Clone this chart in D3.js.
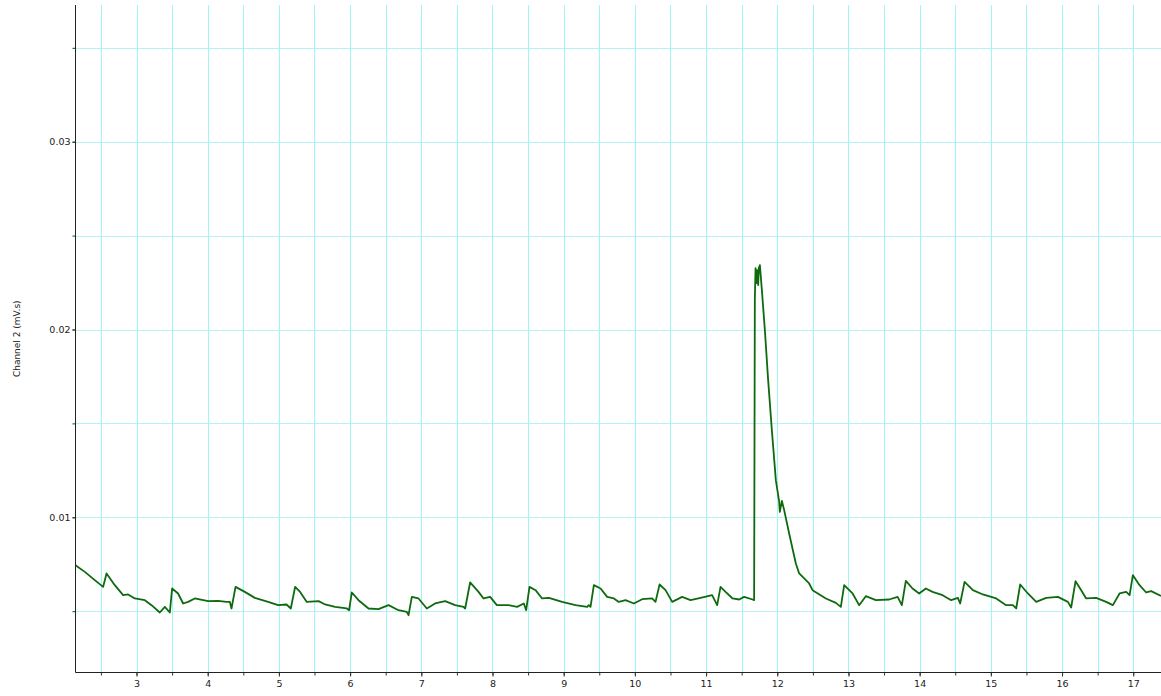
<!DOCTYPE html>
<html>
<head>
<meta charset="utf-8">
<script src="https://cdn.jsdelivr.net/npm/d3@7"></script>
<style>
  html, body { margin: 0; padding: 0; background: #fff; }
  svg { display: block; }
  .tick text { font-family: "DejaVu Sans", Verdana, sans-serif; font-size: 9.5px; fill: #222; }
</style>
</head>
<body>
<svg id="chart" width="1161" height="696"></svg>
<script>
// Time (s)
const timeValues = [
  2.143, 2.274, 2.414, 2.531, 2.579, 2.695, 2.812, 2.882, 2.976, 3.117, 3.211, 3.327, 3.398, 3.468,
  3.500, 3.584, 3.655, 3.725, 3.819, 4.006, 4.146, 4.264, 4.311, 4.334, 4.391, 4.521, 4.662, 4.849,
  4.989, 5.107, 5.167, 5.228, 5.298, 5.392, 5.557, 5.649, 5.790, 5.954, 5.986, 6.024, 6.118, 6.259,
  6.399, 6.540, 6.680, 6.797, 6.821, 6.867, 6.961, 7.078, 7.194, 7.335, 7.475, 7.593, 7.616, 7.686,
  7.804, 7.874, 7.967, 8.061, 8.131, 8.225, 8.346, 8.440, 8.473, 8.520, 8.605, 8.697, 8.792, 8.978,
  9.167, 9.330, 9.353, 9.377, 9.424, 9.518, 9.611, 9.705, 9.775, 9.869, 9.986, 10.102, 10.243, 10.290,
  10.347, 10.431, 10.524, 10.664, 10.782, 10.923, 11.085, 11.156, 11.203, 11.274, 11.372, 11.465,
  11.535, 11.653, 11.675, 11.685, 11.695, 11.709, 11.720, 11.732, 11.741, 11.756, 11.784, 11.826,
  11.872, 11.924, 11.980, 12.027, 12.036, 12.065, 12.097, 12.167, 12.261, 12.308, 12.448, 12.496,
  12.683, 12.823, 12.893, 12.940, 13.058, 13.150, 13.244, 13.385, 13.572, 13.690, 13.750, 13.806,
  13.900, 13.993, 14.087, 14.181, 14.322, 14.443, 14.537, 14.569, 14.631, 14.748, 14.888, 15.075,
  15.215, 15.309, 15.356, 15.412, 15.520, 15.637, 15.777, 15.942, 16.082, 16.128, 16.190, 16.269,
  16.339, 16.479, 16.620, 16.714, 16.808, 16.901, 16.949, 16.995, 17.089, 17.182, 17.252, 17.390
];
// Channel 2 (mV.s)
const channel2Values = [
  0.007450, 0.007094, 0.006651, 0.006294, 0.007008, 0.006385, 0.005852, 0.005890, 0.005677, 0.005586,
  0.005320, 0.004931, 0.005229, 0.004931, 0.006209, 0.005943, 0.005410, 0.005495, 0.005677, 0.005533,
  0.005549, 0.005495, 0.005495, 0.005144, 0.006294, 0.006028, 0.005708, 0.005495, 0.005320, 0.005357,
  0.005144, 0.006294, 0.006028, 0.005495, 0.005533, 0.005357, 0.005229, 0.005144, 0.005053, 0.005996,
  0.005586, 0.005144, 0.005107, 0.005320, 0.005053, 0.004963, 0.004787, 0.005762, 0.005677, 0.005144,
  0.005410, 0.005533, 0.005320, 0.005229, 0.005144, 0.006529, 0.006028, 0.005677, 0.005762, 0.005320,
  0.005320, 0.005320, 0.005229, 0.005410, 0.005053, 0.006294, 0.006119, 0.005677, 0.005708, 0.005495,
  0.005320, 0.005229, 0.005320, 0.005229, 0.006385, 0.006209, 0.005762, 0.005677, 0.005495, 0.005586,
  0.005410, 0.005639, 0.005677, 0.005495, 0.006422, 0.006119, 0.005495, 0.005762, 0.005586, 0.005708,
  0.005852, 0.005320, 0.006294, 0.006028, 0.005677, 0.005623, 0.005762, 0.005623, 0.005586, 0.021567,
  0.023272, 0.022473, 0.023165, 0.022366, 0.023272, 0.023431, 0.022100, 0.019969, 0.017305, 0.014642,
  0.011978, 0.010822, 0.010290, 0.010876, 0.010380, 0.009139, 0.007541, 0.007008, 0.006476, 0.006119,
  0.005677, 0.005442, 0.005229, 0.006385, 0.005943, 0.005320, 0.005799, 0.005586, 0.005623, 0.005762,
  0.005320, 0.006614, 0.006209, 0.005943, 0.006209, 0.006028, 0.005852, 0.005586, 0.005708, 0.005410,
  0.006561, 0.006119, 0.005890, 0.005677, 0.005320, 0.005320, 0.005144, 0.006422, 0.005943, 0.005495,
  0.005708, 0.005762, 0.005495, 0.005197, 0.006598, 0.006119, 0.005677, 0.005708, 0.005495, 0.005320,
  0.005943, 0.006028, 0.005852, 0.006918, 0.006385, 0.005996, 0.006065, 0.005815
];
const xTickValues = [3, 4, 5, 6, 7, 8, 9, 10, 11, 12, 13, 14, 15, 16, 17];
const xGridValues = [2.5, 3, 3.5, 4, 4.5, 5, 5.5, 6, 6.5, 7, 7.5, 8, 8.5, 9, 9.5, 10, 10.5, 11, 11.5, 12, 12.5, 13, 13.5, 14, 14.5, 15, 15.5, 16, 16.5, 17];
const yTickValues = [0.01, 0.02, 0.03];
const yGridValues = [0.005, 0.01, 0.015, 0.02, 0.025, 0.03, 0.035];
const xDomain = [2.143, 17.39];
const yDomain = [0.001735, 0.03728];
const yTitle = "Channel 2 (mV.s)";

const data = timeValues.map((t, i) => ({ t, v: channel2Values[i] }));

const svg = d3.select("#chart");
const plotLeft = 75.5, plotRight = 1161, plotTop = 5, plotBottom = 672.5;

const x = d3.scaleLinear().domain(xDomain).range([plotLeft, plotRight]);
const y = d3.scaleLinear().domain(yDomain).range([plotBottom, plotTop]);

// grid
const grid = svg.append("g");
grid.selectAll("line.h").data(yGridValues).join("line")
  .attr("class", "h")
  .attr("x1", plotLeft).attr("x2", plotRight)
  .attr("y1", d => Math.round(y(d)) + 0.5).attr("y2", d => Math.round(y(d)) + 0.5)
  .attr("stroke", "#b5f3f3").attr("stroke-width", 1);
grid.selectAll("line.v").data(xGridValues).join("line")
  .attr("class", "v")
  .attr("y1", plotTop).attr("y2", plotBottom)
  .attr("x1", d => Math.round(x(d)) + 0.5).attr("x2", d => Math.round(x(d)) + 0.5)
  .attr("stroke", "#9ef6f6").attr("stroke-width", 1);

// line
const line = d3.line().x(d => x(d.t)).y(d => y(d.v));
svg.append("path").datum(data)
  .attr("d", line)
  .attr("fill", "none")
  .attr("stroke", "#0f6a0f")
  .attr("stroke-width", 1.8)
  .attr("stroke-linejoin", "round");

// axes
const xAxisMinor = d3.axisBottom(x).tickValues(xGridValues).tickSize(3).tickFormat("");
svg.append("g").attr("transform", `translate(0,${plotBottom})`).call(xAxisMinor)
  .call(g => g.select(".domain").remove())
  .call(g => g.selectAll(".tick line").attr("stroke", "#333"));
const xAxis = d3.axisBottom(x).tickValues(xTickValues).tickSize(4).tickPadding(4).tickFormat(d3.format("d"));
svg.append("g").attr("transform", `translate(0,${plotBottom})`).call(xAxis)
  .call(g => g.select(".domain").attr("stroke", "#222").attr("d", `M${plotLeft},0H${plotRight}`))
  .call(g => g.selectAll(".tick line").attr("stroke", "#333"));

const yAxisMinor = d3.axisLeft(y).tickValues(yGridValues).tickSize(3).tickFormat("");
svg.append("g").attr("transform", `translate(${plotLeft},0)`).call(yAxisMinor)
  .call(g => g.select(".domain").remove())
  .call(g => g.selectAll(".tick line").attr("stroke", "#333"));
const yAxis = d3.axisLeft(y).tickValues(yTickValues).tickSize(3).tickPadding(2).tickFormat(d3.format(".2f"));
svg.append("g").attr("transform", `translate(${plotLeft},0)`).call(yAxis)
  .call(g => g.select(".domain").attr("stroke", "#222").attr("d", `M0,${plotTop}V${plotBottom}`))
  .call(g => g.selectAll(".tick line").attr("stroke", "#333"));

svg.append("text")
  .attr("transform", `translate(20,${(plotTop + plotBottom) / 2}) rotate(-90)`)
  .attr("text-anchor", "middle")
  .attr("font-family", "DejaVu Sans, Verdana, sans-serif")
  .attr("font-size", "9px")
  .attr("fill", "#222")
  .text(yTitle);
</script>
</body>
</html>
